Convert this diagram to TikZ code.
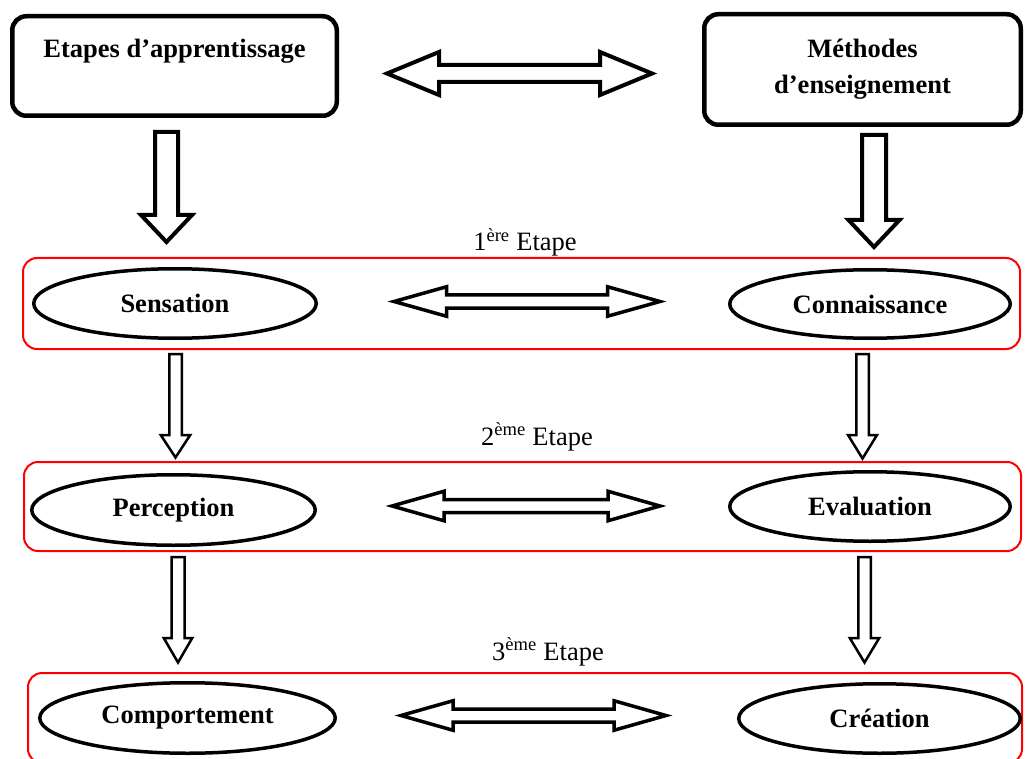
\documentclass[tikz,border=0pt]{standalone}
\usepackage{fontspec}
\setmainfont{Liberation Serif}
\usepackage{xcolor}
\usepackage{tikz}
\usetikzlibrary{shapes.geometric, positioning, calc}
\definecolor{stagered}{RGB}{255, 0, 0}

% hollow block arrow pointing down: [style]{from}{tip}{half shaft}{half head}{head length}
\newcommand{\blockdown}[6][]{%
  \draw[#1] let \p1=(#2), \p2=(#3) in
    (\x1-#4pt,\y1) -- (\x1+#4pt,\y1) -- (\x1+#4pt,\y2+#6pt) -- (\x1+#5pt,\y2+#6pt)
    -- (\x1,\y2) -- (\x1-#5pt,\y2+#6pt) -- (\x1-#4pt,\y2+#6pt) -- cycle;}
% hollow block arrow with two heads: [style]{left tip}{right tip}{half shaft}{half head}{head length}
\newcommand{\blockboth}[6][]{%
  \draw[#1] let \p1=(#2), \p2=(#3) in
    (\x1,\y1) -- (\x1+#6pt,\y1+#5pt) -- (\x1+#6pt,\y1+#4pt) -- (\x2-#6pt,\y1+#4pt)
    -- (\x2-#6pt,\y1+#5pt) -- (\x2,\y1) -- (\x2-#6pt,\y1-#5pt) -- (\x2-#6pt,\y1-#4pt)
    -- (\x1+#6pt,\y1-#4pt) -- (\x1+#6pt,\y1-#5pt) -- cycle;}

\begin{document}
\begin{tikzpicture}[
          x=1pt, y=-1pt,
          font=\fontsize{26.5}{36}\selectfont,
          topbox/.style={draw, line width=4.5pt, rounded corners=14pt, align=center, inner sep=0pt,
                         font=\fontsize{26.5}{36}\selectfont\bfseries},
          stagebox/.style={draw=stagered, line width=2pt, rounded corners=14pt, inner sep=0pt},
          oval/.style={draw, ellipse, line width=3.5pt, inner sep=0pt,
                       font=\fontsize{26.5}{36}\selectfont\bfseries},
          bigarr/.style={line width=4pt},
          smallarr/.style={line width=2.5pt},
          duoarr/.style={line width=3.5pt},
          lbl/.style={anchor=base}
        ]
        \useasboundingbox (0,0) rectangle (1025,759);
        \clip (0,0) rectangle (1025,759);
        % Top boxes
        \node[topbox, minimum width=324.5, minimum height=99.5] (etapes) at (174.5,66) {Etapes d’apprentissage\\~};
        \node[topbox, minimum width=316.5, minimum height=110.5] (methodes) at (862.5,69.5) {Méthodes\\d’enseignement};
        % Stage frames
        \node[stagebox, minimum width=997, minimum height=91] (stage1) at (521.5,303.5) {};
        \node[stagebox, minimum width=997, minimum height=89] (stage2) at (522.5,506.5) {};
        \node[stagebox, minimum width=994, minimum height=90] (stage3) at (525,718) {};
        % Stage labels
        \node[lbl] (lab1) at (525,251) {1\textsuperscript{ère} Etape};
        \node[lbl] (lab2) at (537,445) {2\textsuperscript{ème} Etape};
        \node[lbl] (lab3) at (548,660) {3\textsuperscript{ème} Etape};
        % Ovals
        \node[oval, minimum width=282.5, minimum height=69.5] (sensation) at (175,303.5) {Sensation};
        \node[oval, minimum width=280.5, minimum height=68.5] (connaissance) at (870,304) {Connaissance};
        \node[oval, minimum width=283.5, minimum height=70.5] (perception) at (173.5,510) {Perception};
        \node[oval, minimum width=280.5, minimum height=69.5] (evaluation) at (870,506.5) {Evaluation};
        \node[oval, minimum width=295.5, minimum height=70.5] (comportement) at (187.5,718) {Comportement};
        \node[oval, minimum width=281.5, minimum height=69.5] (creation) at (879.5,718.5) {Création};

        % Arrow ends
        \coordinate (top-l) at (387,73.5);    \coordinate (top-r) at (652,73.5);
        \coordinate (row1-l) at (394,301.5);  \coordinate (row1-r) at (660,301.5);
        \coordinate (row2-l) at (392,506);    \coordinate (row2-r) at (660,506);
        \coordinate (row3-l) at (401,715.5);  \coordinate (row3-r) at (666,715.5);
        \coordinate (etapes-out) at (166.5,132);   \coordinate (etapes-in) at (166.5,242);
        \coordinate (methodes-out) at (874,135);   \coordinate (methodes-in) at (874,247);
        \coordinate (sens-out) at (175.5,354);     \coordinate (perc-in) at (175.5,457.5);
        \coordinate (conn-out) at (862.5,354);     \coordinate (eval-in) at (862.5,458.5);
        \coordinate (perc-out) at (178,557);       \coordinate (comp-in) at (178,662.5);
        \coordinate (eval-out) at (864.5,557);     \coordinate (crea-in) at (864.5,662.5);

        % Double arrows
        \blockboth[bigarr]{top-l}{top-r}{8.5}{21.5}{52}
        \blockboth[duoarr]{row1-l}{row1-r}{6.5}{14.75}{52.5}
        \blockboth[duoarr]{row2-l}{row2-r}{6.5}{14.75}{52}
        \blockboth[duoarr]{row3-l}{row3-r}{6.5}{14.75}{52}
        % Down arrows
        \blockdown[bigarr]{etapes-out}{etapes-in}{11.5}{25.5}{27}
        \blockdown[bigarr]{methodes-out}{methodes-in}{12}{25.5}{27}
        \blockdown[smallarr]{sens-out}{perc-in}{6.25}{14.75}{22.5}
        \blockdown[smallarr]{conn-out}{eval-in}{6.25}{14.5}{23.5}
        \blockdown[smallarr]{perc-out}{comp-in}{6.5}{14.25}{24.5}
        \blockdown[smallarr]{eval-out}{crea-in}{6.25}{14.75}{24.5}
      \end{tikzpicture}
\end{document}
